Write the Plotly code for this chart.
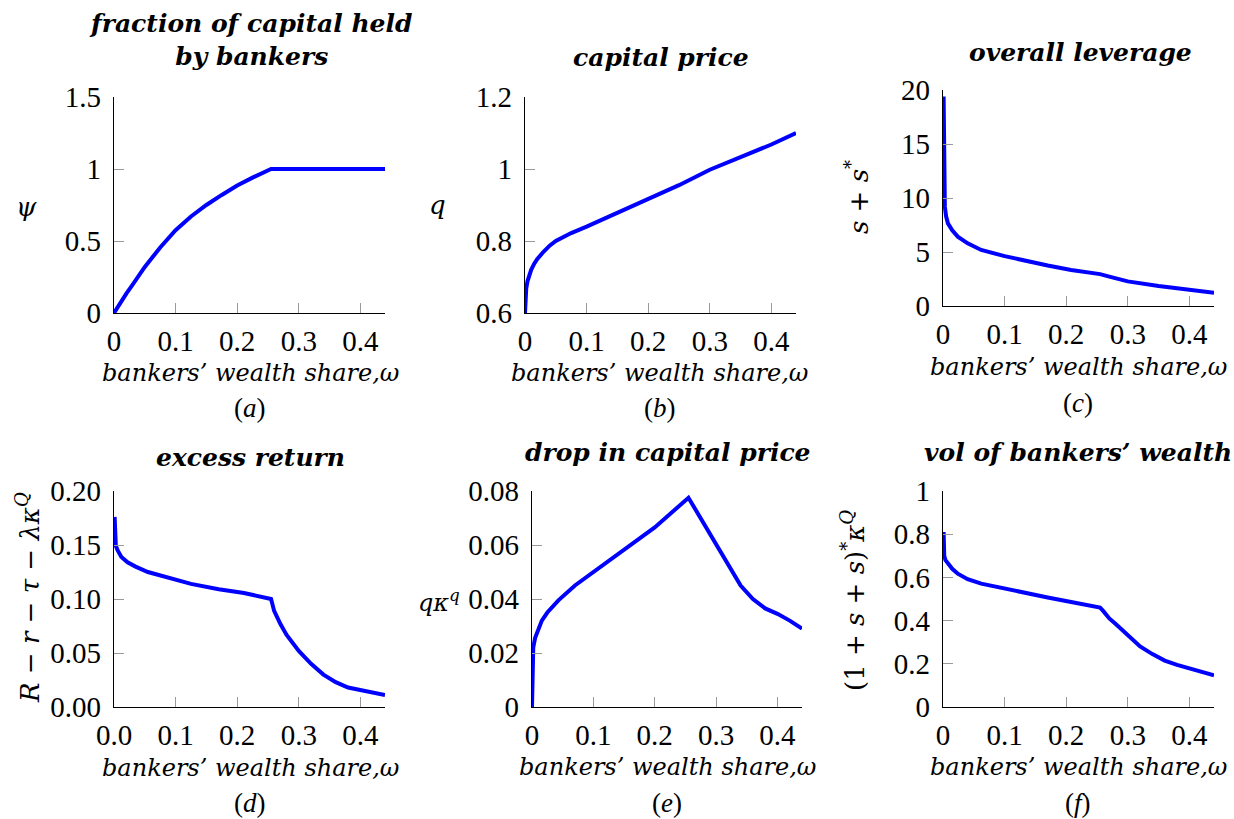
import plotly.graph_objects as go

W, H = 1234, 819

# ---------------- data ----------------
omega_a = [0, 0.005, 0.01, 0.02, 0.03, 0.04, 0.05, 0.075, 0.1, 0.125, 0.15, 0.175, 0.2, 0.225, 0.245, 0.255, 0.3, 0.35, 0.4, 0.44]
psi = [0, 0.035, 0.07, 0.135, 0.195, 0.26, 0.32, 0.455, 0.575, 0.67, 0.75, 0.82, 0.885, 0.94, 0.975, 1, 1, 1, 1, 1]

omega_b = [0, 0.0005, 0.001, 0.002, 0.004, 0.007, 0.01, 0.015, 0.02, 0.03, 0.04, 0.05, 0.075, 0.1, 0.15, 0.2, 0.25, 0.3, 0.35, 0.4, 0.44]
q_price = [0.6, 0.63, 0.65, 0.668, 0.688, 0.707, 0.72, 0.737, 0.75, 0.77, 0.787, 0.8, 0.822, 0.84, 0.878, 0.915, 0.955, 0.998, 1.032, 1.068, 1.1]

omega_c = [0.001, 0.0015, 0.002, 0.003, 0.005, 0.008, 0.015, 0.024, 0.04, 0.062, 0.1, 0.138, 0.17, 0.208, 0.255, 0.27, 0.3, 0.35, 0.4, 0.44]
leverage = [19.4, 14, 10.5, 9.2, 8.3, 7.65, 7.0, 6.42, 5.8, 5.19, 4.62, 4.1, 3.75, 3.33, 2.95, 2.72, 2.28, 1.86, 1.54, 1.23]

omega_d = [0.001, 0.0015, 0.003, 0.006, 0.012, 0.022, 0.035, 0.055, 0.08, 0.1, 0.125, 0.17, 0.211, 0.255, 0.26, 0.27, 0.28, 0.3, 0.32, 0.34, 0.36, 0.38, 0.4, 0.42, 0.44]
excess = [0.176, 0.155, 0.149, 0.145, 0.139, 0.134, 0.13, 0.125, 0.121, 0.118, 0.114, 0.109, 0.1056, 0.1, 0.089, 0.077, 0.067, 0.052, 0.04, 0.03, 0.023, 0.018, 0.0155, 0.013, 0.011]

omega_e = [0, 0.0003, 0.0008, 0.002, 0.005, 0.01, 0.016, 0.025, 0.043, 0.07, 0.1, 0.15, 0.2, 0.255, 0.28, 0.3, 0.32, 0.34, 0.36, 0.38, 0.4, 0.42, 0.44]
drop = [0, 0.012, 0.019, 0.022, 0.0255, 0.029, 0.032, 0.035, 0.0395, 0.045, 0.05, 0.058, 0.0665, 0.0775, 0.068, 0.06, 0.053, 0.045, 0.040, 0.0365, 0.0345, 0.032, 0.029]

omega_f = [0.001, 0.0015, 0.002, 0.004, 0.008, 0.015, 0.024, 0.04, 0.062, 0.1, 0.138, 0.17, 0.208, 0.255, 0.26, 0.27, 0.28, 0.3, 0.32, 0.34, 0.36, 0.38, 0.4, 0.42, 0.44]
vol = [0.81, 0.72, 0.70, 0.68, 0.664, 0.64, 0.617, 0.592, 0.571, 0.547, 0.525, 0.507, 0.486, 0.46, 0.445, 0.41, 0.385, 0.335, 0.28, 0.245, 0.215, 0.195, 0.178, 0.163, 0.147]

x_ticks = [0, 0.1, 0.2, 0.3, 0.4]
x_ticklabels = ["0", "0.1", "0.2", "0.3", "0.4"]
x_ticklabels_d = ["0.0", "0.1", "0.2", "0.3", "0.4"]

y_ticks_a = [0, 0.5, 1, 1.5]; y_labels_a = ["0", "0.5", "1", "1.5"]
y_ticks_b = [0.6, 0.8, 1.0, 1.2]; y_labels_b = ["0.6", "0.8", "1", "1.2"]
y_ticks_c = [0, 5, 10, 15, 20]; y_labels_c = ["0", "5", "10", "15", "20"]
y_ticks_d = [0, 0.05, 0.1, 0.15, 0.2]; y_labels_d = ["0.00", "0.05", "0.10", "0.15", "0.20"]
y_ticks_e = [0, 0.02, 0.04, 0.06, 0.08]; y_labels_e = ["0", "0.02", "0.04", "0.06", "0.08"]
y_ticks_f = [0, 0.2, 0.4, 0.6, 0.8, 1.0]; y_labels_f = ["0", "0.2", "0.4", "0.6", "0.8", "1"]

titles = ["<b><i>fraction of capital held</i></b><br><b><i>by bankers</i></b>",
          "<b><i>capital price</i></b>", "<b><i>overall leverage</i></b>",
          "<b><i>excess return</i></b>", "<b><i>drop in capital price</i></b>",
          "<b><i>vol of bankers’ wealth</i></b>"]
x_title = "<i>bankers’ wealth share,ω</i>"
sub_labels = ["(<i>a</i>)", "(<i>b</i>)", "(<i>c</i>)", "(<i>d</i>)", "(<i>e</i>)", "(<i>f</i>)"]

NUM_FONT = "Liberation Serif"
TXT_FONT = "DejaVu Serif"
TICK_SIZE = 29
SUB_SIZE = 27
XLABEL_SIZE = 24
YLABEL_SIZE = 26
TITLE_SIZE = 25

# pixel boxes of plot areas: (left, right, top, bottom)
boxes = [(114, 385, 97, 313), (525, 796, 97, 313), (943, 1214, 90, 306),
         (114, 385, 491, 707), (532, 802, 491, 707), (943, 1214, 491, 707)]

series = [(omega_a, psi, [0, 1.5], y_ticks_a, y_labels_a, x_ticklabels),
          (omega_b, q_price, [0.6, 1.2], y_ticks_b, y_labels_b, x_ticklabels),
          (omega_c, leverage, [0, 20], y_ticks_c, y_labels_c, x_ticklabels),
          (omega_d, excess, [0, 0.2], y_ticks_d, y_labels_d, x_ticklabels_d),
          (omega_e, drop, [0, 0.08], y_ticks_e, y_labels_e, x_ticklabels),
          (omega_f, vol, [0, 1.0], y_ticks_f, y_labels_f, x_ticklabels)]

fig = go.Figure()

def px(x):
    return x / W

def py(y):
    return 1 - y / H

for i, ((l, r, t, b), (xs, ys, yr, yt, yl, xl)) in enumerate(zip(boxes, series)):
    n = "" if i == 0 else str(i + 1)
    fig.add_trace(go.Scatter(x=xs, y=ys, mode="lines",
                             line=dict(color="#0000ff", width=4),
                             xaxis="x" + n, yaxis="y" + n, showlegend=False,
                             cliponaxis=True))
    common = dict(showline=True, linecolor="black", linewidth=1.2, mirror=False,
                  showgrid=False, zeroline=False, ticks="inside", ticklen=10,
                  tickcolor="#9a9a9a", tickwidth=1, automargin=False,
                  tickfont=dict(family=NUM_FONT, size=TICK_SIZE, color="black"))
    fig.layout["xaxis" + n] = dict(common, domain=[px(l), px(r)], range=[0, 0.44],
                                   tickvals=x_ticks, ticktext=xl,
                                   anchor="y" + n, ticklabelstandoff=2)
    fig.layout["yaxis" + n] = dict(common, domain=[py(b), py(t)], range=yr,
                                   tickvals=yt, ticktext=yl,
                                   anchor="x" + n, ticklabelstandoff=6)

ann = []
def add(text, x, y, size, family, angle=0):
    ann.append(dict(text=text, x=px(x), y=py(y), xref="paper", yref="paper",
                    showarrow=False, textangle=angle, xanchor="center", yanchor="middle",
                    font=dict(family=family, size=size, color="black")))

# titles
add(titles[0], 250, 40, TITLE_SIZE, TXT_FONT)
add(titles[1], 661, 58, TITLE_SIZE, TXT_FONT)
add(titles[2], 1080, 52, TITLE_SIZE, TXT_FONT)
add(titles[3], 250, 457, TITLE_SIZE, TXT_FONT)
add(titles[4], 668, 452, TITLE_SIZE, TXT_FONT)
add(titles[5], 1078, 452, TITLE_SIZE, TXT_FONT)

# x titles
for (x, y) in [(250, 373), (660, 373), (1078, 367), (250, 768), (667, 767), (1078, 767)]:
    add(x_title, x, y, XLABEL_SIZE, TXT_FONT)

# sub labels
for lab, (x, y) in zip(sub_labels, [(250, 408), (660, 408), (1078, 403), (250, 803), (667, 803), (1078, 803)]):
    add(lab, x, y, SUB_SIZE, NUM_FONT)

# y titles
add("<i>ψ</i>", 26, 207, YLABEL_SIZE, TXT_FONT)
add("<i>q</i>", 437, 205, YLABEL_SIZE, TXT_FONT)
add("<i>s</i> + <i>s</i><sup>*</sup>", 857, 197, YLABEL_SIZE, TXT_FONT, -90)
add("<i>R</i> − <i>r</i> − <i>τ</i> − <i>λκ</i><sup><i>Q</i></sup>", 28, 598, YLABEL_SIZE, TXT_FONT, -90)
add("<i>qκ</i><sup><i>q</i></sup>", 439, 601, 24, TXT_FONT)
add("(1 + <i>s</i> + <i>s</i>)<sup>*</sup><i>κ</i><sup><i>Q</i></sup>", 853, 600, YLABEL_SIZE, TXT_FONT, -90)

fig.update_layout(width=W, height=H, margin=dict(l=0, r=0, t=0, b=0),
                  paper_bgcolor="white", plot_bgcolor="white",
                  annotations=ann, showlegend=False)

fig.write_html("out.html", config={"displayModeBar": False},
               post_script="document.body.style.margin='0px';")
